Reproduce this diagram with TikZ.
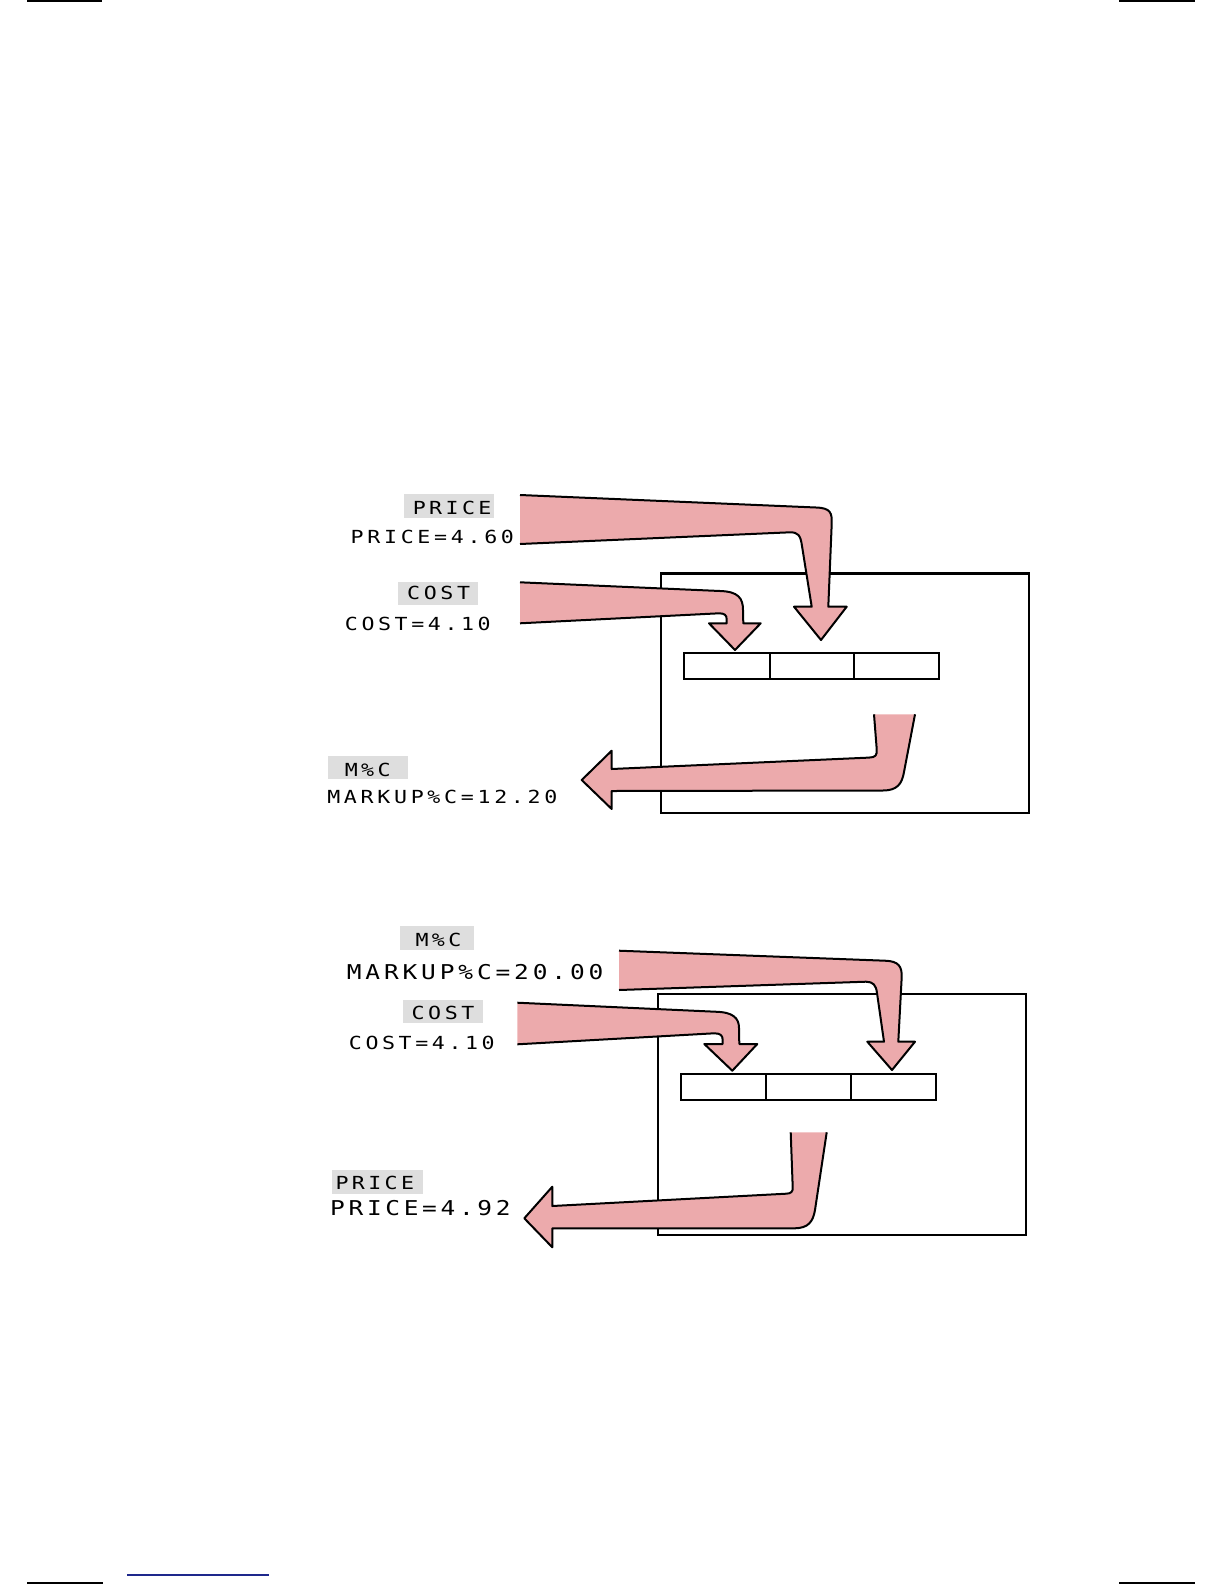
\documentclass[tikz,border=0pt]{standalone}
\usepackage{fontspec}
\newfontfamily\lcdfont{DejaVu Sans Mono}
\newlength\lcdpitch
\newcommand\lcdtext[2]{\setlength\lcdpitch{#1}\lcdloop#2\relax}
\def\lcdloop#1{\ifx#1\relax\else\makebox[\lcdpitch][c]{\scalebox{1.2}[1]{#1}}\expandafter\lcdloop\fi}
\definecolor{arrowpink}{RGB}{236,170,172}
\definecolor{keygray}{RGB}{222,222,222}
\definecolor{linkblue}{RGB}{30,40,140}
\tikzset{
  pinkarrow/.style={fill=arrowpink, draw=black, line width=1pt, line join=round},
  keybox/.style={fill=keygray, draw=none},
  lcd/.style={inner sep=0pt, anchor=base west, font=\lcdfont\fontsize{9}{9}\selectfont},
  lcdbig/.style={lcd, font=\lcdfont\fontsize{10.2}{10}\selectfont},
  panel/.style={draw=black, line width=1.2pt},
  cell/.style={draw=black, line width=1.1pt},
  edgemark/.style={draw=black, line width=1pt},
}
\begin{document}
\begin{tikzpicture}[x=0.5pt, y=-0.5pt]
\useasboundingbox (0,0) rectangle (1224,1584);
% page marks
\draw[edgemark] (27,1.5) -- (102,1.5);
\draw[edgemark] (1119,1.5) -- (1195,1.5);
\draw[edgemark] (27,1583) -- (103,1583);
\draw[edgemark] (1119,1583) -- (1195,1583);
\draw[draw=linkblue, line width=0.7pt] (127,1575) -- (269,1575);

% ===== Diagram 1 =====
\draw[panel] (661,573.3) rectangle (1029,813);
\draw[cell] (684.3,653.3) rectangle (939.3,679.3);
\draw[cell] (770,653.3) -- (770,679.3);
\draw[cell] (854.3,653.3) -- (854.3,679.3);

\path[keybox] (404,494) rectangle (494.3,517.7);
\node[lcd] (k1price) at (410.7,514.3) {\lcdtext{8.2pt}{PRICE}};
\node[lcd] (v1price) at (348.4,543.3) {\lcdtext{8.35pt}{PRICE=4.60}};
\path[keybox] (398.3,581.7) rectangle (477.7,605);
\node[lcd] (k1cost) at (405,599.3) {\lcdtext{8.3pt}{COST}};
\node[lcd] (v1cost) at (342.7,630) {\lcdtext{8.3pt}{COST=4.10}};
\path[keybox] (327.7,756) rectangle (407.7,779.3);
\node[lcd] (k1mc) at (342.7,776.7) {\lcdtext{8.2pt}{M\%C}};
\node[lcd] (v1mc) at (325,803.3) {\lcdtext{8.35pt}{MARKUP\%C=12.20}};

\filldraw[pinkarrow] (520,495) -- (816,507.5) .. controls (831,508) and (832,513) .. (831.7,524)
  -- (828.3,606.7) -- (846.7,606.7) -- (821,640) -- (794,606.7) -- (811.7,606.7)
  -- (802,546) .. controls (800.5,535) and (798,532.3) .. (790,532.3) -- (520,544);
\filldraw[pinkarrow] (520,582.3) -- (720,591) .. controls (738,591.5) and (743,598) .. (743,610)
  -- (743.3,623.3) -- (760.7,623.3) -- (735,650) -- (709,623.3) -- (726.7,623.3)
  -- (726.7,619.5) .. controls (726.7,615) and (724.5,613.3) .. (719,613.3) -- (520,623.3);
\filldraw[pinkarrow] (874,714.3) -- (876.7,749) .. controls (877.2,755.5) and (875.5,757.3) .. (869,757.6)
  -- (611.7,769) -- (611.7,750.7) -- (581.7,780) -- (611.7,809) -- (611.7,791)
  -- (883,790.5) .. controls (897,790.5) and (902,784) .. (904,772) -- (915,714.3);

% ===== Diagram 2 =====
\draw[panel] (657.7,994) rectangle (1025.7,1235);
\draw[cell] (680.7,1074) rectangle (936,1100);
\draw[cell] (765.7,1074) -- (765.7,1100);
\draw[cell] (851,1074) -- (851,1100);

\path[keybox] (400,925.7) rectangle (474,950);
\node[lcd] (k2mc) at (413.4,946) {\lcdtext{8.2pt}{M\%C}};
\node[lcdbig] (v2mc) at (344.5,979) {\lcdtext{9.3pt}{MARKUP\%C=20.00}};
\path[keybox] (402.7,1000) rectangle (482.7,1023.3);
\node[lcd] (k2cost) at (409.4,1019.3) {\lcdtext{8.3pt}{COST}};
\node[lcd] (v2cost) at (346.7,1049.3) {\lcdtext{8.3pt}{COST=4.10}};
\path[keybox] (331.7,1170) rectangle (422.7,1194);
\node[lcd] (k2price) at (333.4,1189.3) {\lcdtext{8.2pt}{PRICE}};
\node[lcdbig] (v2price) at (328,1215) {\lcdtext{9.2pt}{PRICE=4.92}};

\filldraw[pinkarrow] (517.3,1002.7) -- (715,1011.7) .. controls (733,1012) and (739,1018) .. (739,1028)
  -- (739.3,1044) -- (757.3,1044) -- (732.3,1070.7) -- (704.3,1044) -- (722.7,1044)
  -- (722.7,1040) .. controls (722.7,1035) and (720,1033.3) .. (714,1033.3) -- (517.3,1044.3);
\filldraw[pinkarrow] (619,950.7) -- (885,960.7) .. controls (899,961) and (902,967) .. (901.7,977)
  -- (898.3,1041.7) -- (915,1041.7) -- (892,1070) -- (867.3,1041.7) -- (884,1041.7)
  -- (877,993) .. controls (876,985) and (873,981.7) .. (866,981.7) -- (619,990);
\filldraw[pinkarrow] (790.7,1132.3) -- (792.7,1187) .. controls (793,1192) and (791,1193.5) .. (786,1193.7)
  -- (552.3,1206) -- (552.3,1186.7) -- (524.3,1218.3) -- (552.3,1247.3) -- (552.3,1228.3)
  -- (795,1228.3) .. controls (808,1228) and (813,1222) .. (815,1210) -- (826.7,1132.3);
\end{tikzpicture}
\end{document}
